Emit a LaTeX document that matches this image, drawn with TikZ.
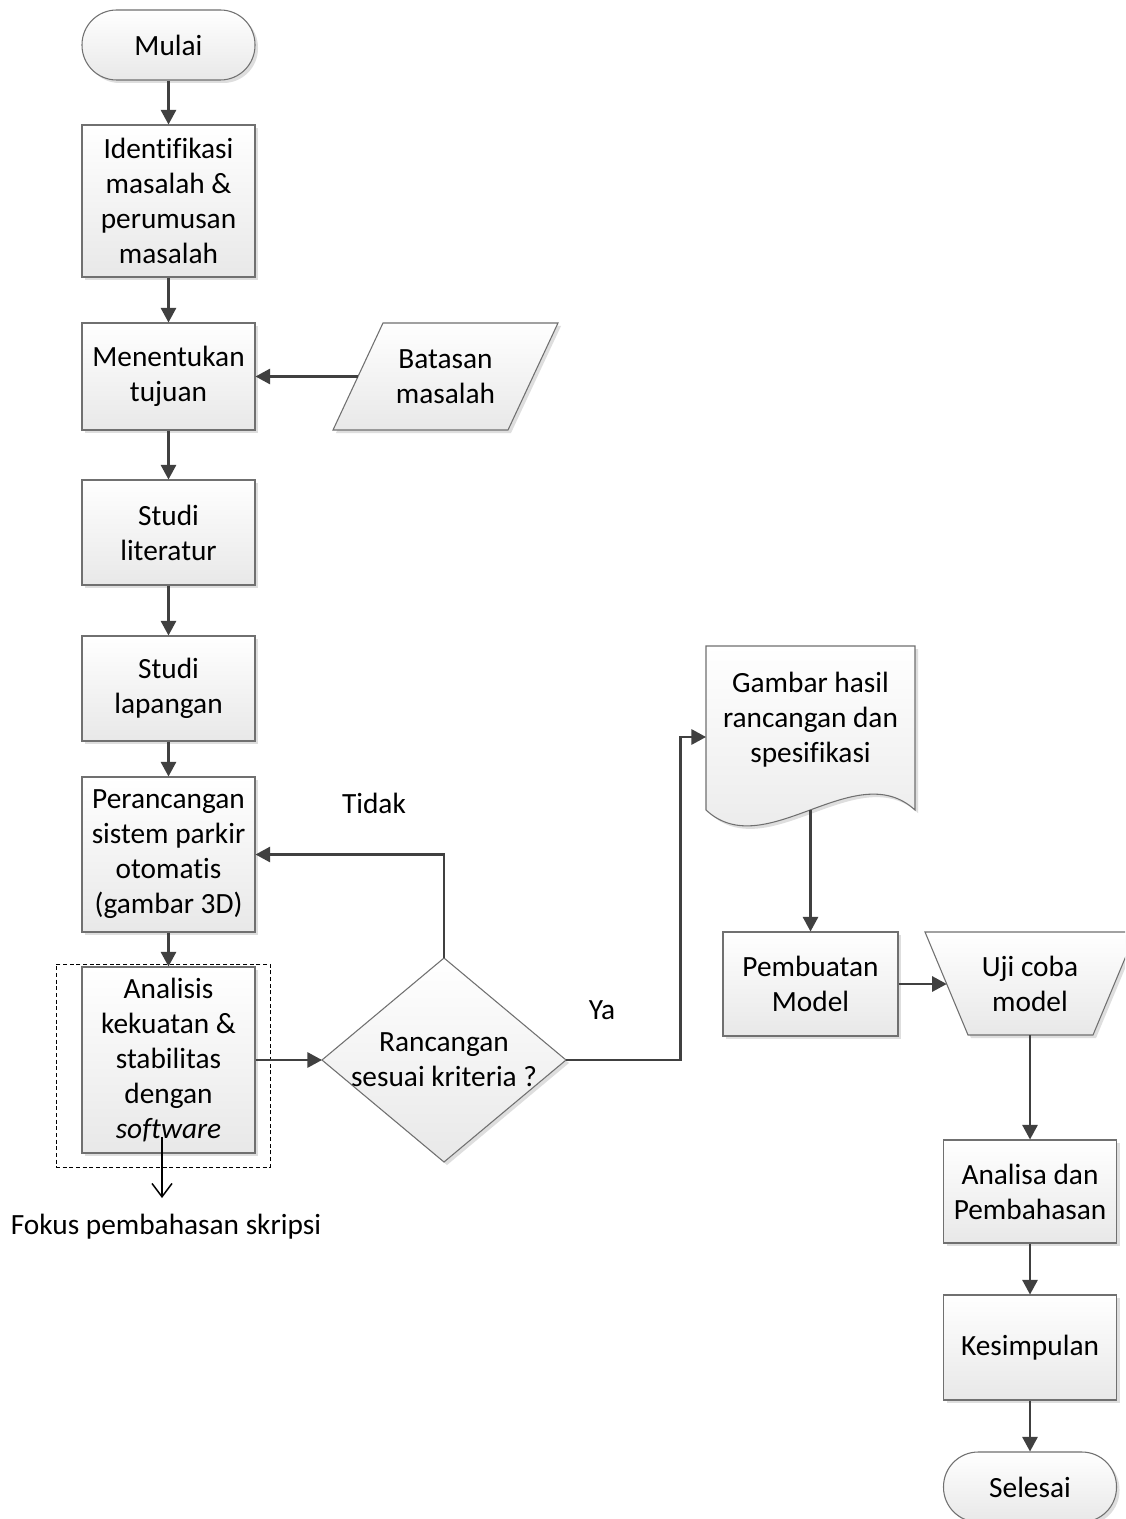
\documentclass[tikz,border=0pt]{standalone}
\usepackage{fontspec}
\setmainfont{Carlito}[Ligatures=NoCommon]
\usetikzlibrary{arrows.meta,shadows}
\definecolor{lncol}{HTML}{404040}
\definecolor{bdcol}{HTML}{707070}
\newcommand{\fsz}{\fontsize{22}{26.25}\selectfont}
\begin{document}
\begin{tikzpicture}[x=0.75pt,y=-0.75pt,
  shp/.style={draw=bdcol, line width=0.8pt, top color=white, bottom color=black!9,
    general shadow={fill=black!13, shadow xshift=2.25pt, shadow yshift=-2.25pt}},
  box/.style={shp, rectangle, minimum width=129.75pt, align=center, inner sep=0pt, font=\fsz},
  term/.style={box, rounded corners=26pt, minimum height=52.5pt},
  txt/.style={align=center, inner sep=0pt, font=\fsz},
  arr/.style={draw=lncol, line width=1.6pt, -{Triangle[length=11pt,width=11.5pt]}},
  conn/.style={draw=lncol, line width=1.6pt},
  fok/.style={draw=black, line width=1.1pt, -{Straight Barb[length=10pt,width=15pt,line width=1.1pt]}}
]
\useasboundingbox (0,0) rectangle (1125,1519);
\fill[white] (0,0) rectangle (1125,1519);
\clip (0,0) rectangle (1125,1519);

% left column
\node[term] (mulai) at (168.5,45) {Mulai};
\node[box, minimum height=114pt] (ident) at (168.5,201) {Identifikasi\\masalah \&\\perumusan\\masalah};
\node[box, minimum height=80.25pt] (tujuan) at (168.5,376.5) {Menentukan\\tujuan};
\node[box, minimum height=78.75pt] (lit) at (168.5,532.5) {Studi\\literatur};
\node[box, minimum height=78.75pt] (lap) at (168.5,688.5) {Studi\\lapangan};
\node[box, minimum height=116.25pt] (ranc) at (168.5,854.5) {Perancangan\\sistem parkir\\otomatis\\(gambar 3D)};
\node[draw=black, line width=0.7pt, dash pattern=on 3pt off 2pt, minimum width=160.5pt, minimum height=152.25pt, inner sep=0pt] (fbox) at (163,1065.5) {};
\node[box, minimum height=139.5pt] (anal) at (168.5,1060) {Analisis\\kekuatan \&\\stabilitas\\dengan\\\textit{software}};

% Batasan masalah (parallelogram)
\path[shp] (383,323) -- (558,323) -- (508,430) -- (333,430) -- cycle;
\node[txt] (bat) at (445.5,376.5) {Batasan\\masalah};
\coordinate (batW) at (358,376.5);

% decision
\path[shp] (444,958) -- (566,1060) -- (444,1162) -- (322,1060) -- cycle;
\node[txt] (dec) at (444,1059.5) {Rancangan\\sesuai kriteria ?};
\coordinate (dT) at (444,958);
\coordinate (dR) at (566,1060);
\coordinate (dL) at (322,1060);

% document
\path[shp] (706,646) -- (915,646) -- (915,810) .. controls (855,755) and (765,865) .. (706,810) -- cycle;
\node[txt] (doc) at (810.5,720) {Gambar hasil\\rancangan dan\\spesifikasi};
\coordinate (docW) at (706,737);
\coordinate (docB) at (810.5,810);
\coordinate (yaC) at (680.5,1060);

% right column
\node[box, minimum width=131.25pt, minimum height=78pt] (pemb) at (810.5,984) {Pembuatan\\Model};
\path[shp] (925,932) -- (1136,932) -- (1093,1035) -- (968,1035) -- cycle;
\node[txt] (uji) at (1030,984) {Uji coba\\model};
\coordinate (ujiW) at (946.7,984);
\coordinate (ujiB) at (1030,1035);
\node[box, minimum height=77.25pt] (analisa) at (1030,1191.5) {Analisa dan\\Pembahasan};
\node[box, minimum height=78.75pt] (kes) at (1030,1347.5) {Kesimpulan};
\node[term] (sel) at (1030,1487) {Selesai};

% connectors
\draw[arr] (mulai) -- (ident);
\draw[arr] (ident) -- (tujuan);
\draw[arr] (batW) -- (tujuan.east);
\draw[arr] (tujuan) -- (lit);
\draw[arr] (lit) -- (lap);
\draw[arr] (lap) -- (ranc);
\draw[arr] (ranc) -- (anal);
\draw[arr] (anal.east) -- (dL);
\draw[arr] (dT) |- (ranc.east);
\draw[arr] (dR) -- (yaC) |- (docW);
\draw[arr] (docB) -- (pemb);
\draw[arr] (pemb.east) -- (ujiW);
\draw[arr] (ujiB) -- (analisa);
\draw[arr] (analisa) -- (kes);
\draw[arr] (kes) -- (sel);

% labels
\node[txt] (tidak) at (374,803) {Tidak};
\node[txt] (ya) at (602,1010) {Ya};

% focus
\coordinate (fokS) at (162,1137);
\coordinate (fokT) at (162,1198);
\draw[fok] (fokS) -- (fokT);
\node[txt] (fokus) at (166,1227) {Fokus pembahasan skripsi};
\end{tikzpicture}
\end{document}
